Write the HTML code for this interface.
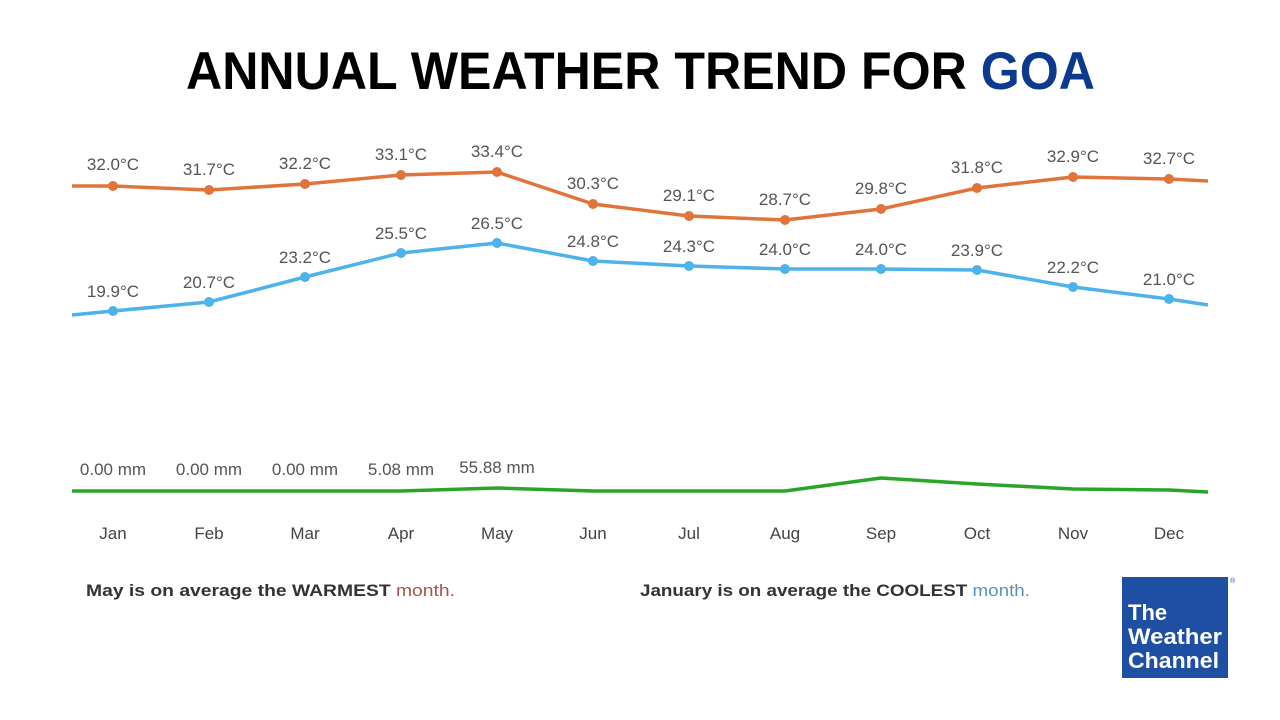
<!DOCTYPE html>
<html><head><meta charset="utf-8"><style>
html,body{margin:0;padding:0;background:#fff;}
svg{display:block;}
</style></head><body>
<svg width="1280" height="720" viewBox="0 0 1280 720" xmlns="http://www.w3.org/2000/svg" font-family="Liberation Sans, sans-serif">
<rect width="1280" height="720" fill="#fff"/>
<text x="186" y="89" font-size="53" font-weight="bold" fill="#000" textLength="909" lengthAdjust="spacingAndGlyphs">ANNUAL WEATHER TREND FOR <tspan fill="#0b3a8e">GOA</tspan></text>

<polyline fill="none" stroke="#e0743a" stroke-width="3.5" stroke-linejoin="round" points="72,186 113,186 209,190 305,184 401,175 497,172 593,204 689,216 785,220 881,209 977,188 1073,177 1169,179 1208,181"/>
<polyline fill="none" stroke="#4db3ea" stroke-width="3.5" stroke-linejoin="round" points="72,315 113,311 209,302 305,277 401,253 497,243 593,261 689,266 785,269 881,269 977,270 1073,287 1169,299 1208,305"/>
<polyline fill="none" stroke="#2aa52a" stroke-width="3.5" stroke-linejoin="round" points="72,491 305,491 401,491 497,488 593,491 785,491 881,478 977,484 1073,489 1169,490 1208,492"/>

<g fill="#e0743a">
<circle cx="113" cy="186" r="5"/><circle cx="209" cy="190" r="5"/><circle cx="305" cy="184" r="5"/><circle cx="401" cy="175" r="5"/><circle cx="497" cy="172" r="5"/><circle cx="593" cy="204" r="5"/><circle cx="689" cy="216" r="5"/><circle cx="785" cy="220" r="5"/><circle cx="881" cy="209" r="5"/><circle cx="977" cy="188" r="5"/><circle cx="1073" cy="177" r="5"/><circle cx="1169" cy="179" r="5"/>
</g>
<g fill="#4db3ea">
<circle cx="113" cy="311" r="5"/><circle cx="209" cy="302" r="5"/><circle cx="305" cy="277" r="5"/><circle cx="401" cy="253" r="5"/><circle cx="497" cy="243" r="5"/><circle cx="593" cy="261" r="5"/><circle cx="689" cy="266" r="5"/><circle cx="785" cy="269" r="5"/><circle cx="881" cy="269" r="5"/><circle cx="977" cy="270" r="5"/><circle cx="1073" cy="287" r="5"/><circle cx="1169" cy="299" r="5"/>
</g>

<g font-size="17" fill="#555" text-anchor="middle">
<text x="113" y="170">32.0°C</text><text x="209" y="175">31.7°C</text><text x="305" y="169">32.2°C</text><text x="401" y="160">33.1°C</text><text x="497" y="157">33.4°C</text><text x="593" y="189">30.3°C</text><text x="689" y="201">29.1°C</text><text x="785" y="205">28.7°C</text><text x="881" y="194">29.8°C</text><text x="977" y="173">31.8°C</text><text x="1073" y="162">32.9°C</text><text x="1169" y="164">32.7°C</text>
<text x="113" y="297">19.9°C</text><text x="209" y="288">20.7°C</text><text x="305" y="263">23.2°C</text><text x="401" y="239">25.5°C</text><text x="497" y="229">26.5°C</text><text x="593" y="247">24.8°C</text><text x="689" y="252">24.3°C</text><text x="785" y="255">24.0°C</text><text x="881" y="255">24.0°C</text><text x="977" y="256">23.9°C</text><text x="1073" y="273">22.2°C</text><text x="1169" y="285">21.0°C</text>
<text x="113" y="475">0.00 mm</text><text x="209" y="475">0.00 mm</text><text x="305" y="475">0.00 mm</text><text x="401" y="475">5.08 mm</text><text x="497" y="473">55.88 mm</text>
</g>

<g font-size="17" fill="#444" text-anchor="middle">
<text x="113" y="539">Jan</text><text x="209" y="539">Feb</text><text x="305" y="539">Mar</text><text x="401" y="539">Apr</text><text x="497" y="539">May</text><text x="593" y="539">Jun</text><text x="689" y="539">Jul</text><text x="785" y="539">Aug</text><text x="881" y="539">Sep</text><text x="977" y="539">Oct</text><text x="1073" y="539">Nov</text><text x="1169" y="539">Dec</text>
</g>

<text x="86" y="596" font-size="17" font-weight="bold" fill="#333" textLength="369" lengthAdjust="spacingAndGlyphs">May is on average the WARMEST <tspan font-weight="normal" fill="#a5544c">month.</tspan></text>
<text x="640" y="596" font-size="17" font-weight="bold" fill="#333" textLength="390" lengthAdjust="spacingAndGlyphs">January is on average the COOLEST <tspan font-weight="normal" fill="#5a90bd">month.</tspan></text>

<rect x="1122" y="577" width="106" height="101" fill="#1f4fa3"/>
<text x="1230" y="583" font-size="7" fill="#1f4fa3">®</text>
<g font-size="22" font-weight="bold" fill="#fff">
<text x="1128" y="620">The</text>
<text x="1128" y="644" textLength="94" lengthAdjust="spacingAndGlyphs">Weather</text>
<text x="1128" y="668" textLength="91" lengthAdjust="spacingAndGlyphs">Channel</text>
</g>
</svg>
</body></html>
